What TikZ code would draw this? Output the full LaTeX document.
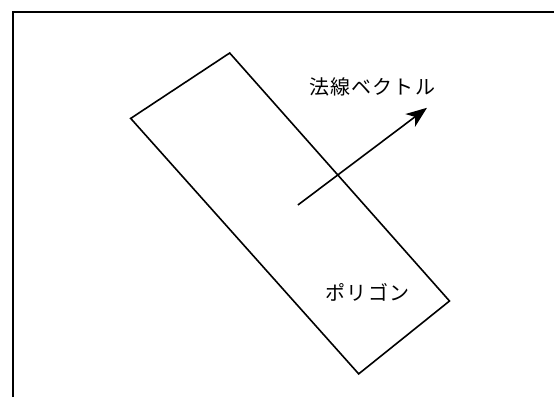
\documentclass[tikz,border=0pt]{standalone}
\usepackage{fontspec}
\newfontfamily\cjk[LetterSpace=6]{Noto Sans CJK JP}
\usetikzlibrary{arrows.meta}
\begin{document}
\begin{tikzpicture}[x=1pt,y=-1pt,
  edge/.style={line width=1.6pt, line join=miter},
  lbl/.style={font=\cjk\fontsize{20}{20}\selectfont, inner sep=0pt}]
\useasboundingbox (0,0) rectangle (554,397);
\draw[line width=1.4pt] (13,397) -- (13,12) -- (554,12);
\coordinate (pt) at (229.7,53);
\coordinate (pl) at (130.7,118.4);
\coordinate (pb) at (358.7,373.9);
\coordinate (pr) at (449.5,301);
\draw[edge] (pt) -- (pl) -- (pb) -- (pr) -- cycle;
\coordinate (as) at (297.9,205);
\coordinate (ae) at (427,107.8);
\draw[edge, -{Stealth[length=21pt,width=16pt,inset=6pt]}] (as) -- (ae);
\node[lbl] (normal) at (372,86.6) {法線ベクトル};
\node[lbl] (poly) at (367.5,292.6) {ポリゴン};
\end{tikzpicture}
\end{document}
